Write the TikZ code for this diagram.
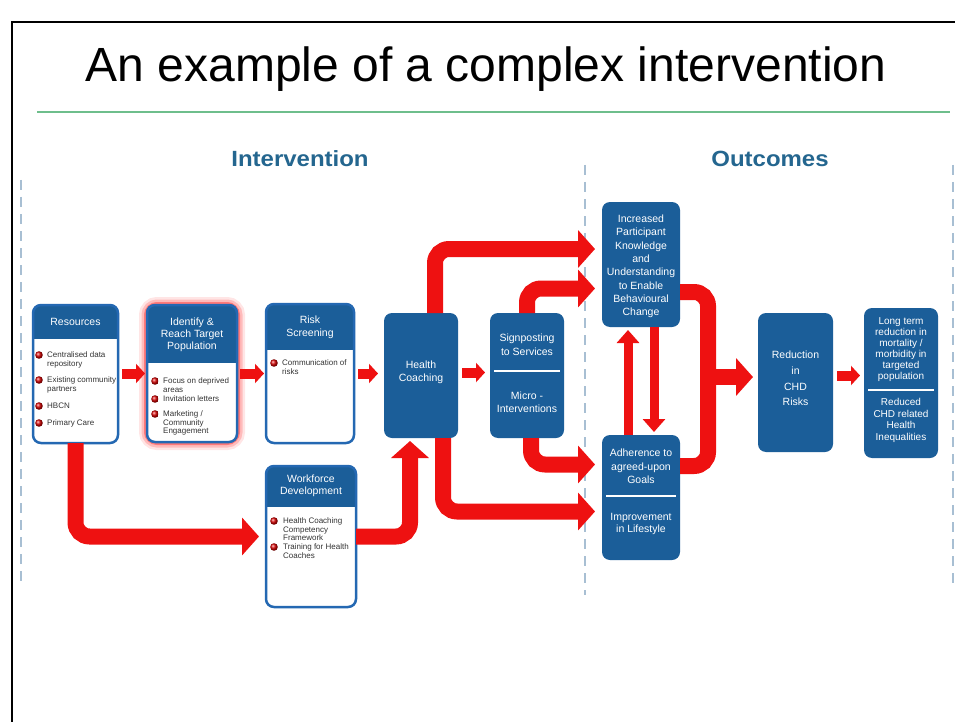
\documentclass[tikz,border=0pt]{standalone}
\usepackage{fontspec}
\usepackage{graphicx}
\setmainfont{Liberation Sans}
\usetikzlibrary{arrows.meta,fit}
\definecolor{boxblue}{HTML}{1B5E99}
\definecolor{bordblue}{HTML}{2468B2}
\definecolor{arrred}{HTML}{EE1111}
\definecolor{headcol}{HTML}{24668F}
\definecolor{dashcol}{HTML}{A8BFD3}
\definecolor{greenline}{HTML}{6EBE8C}

\newcommand\hdrbox[6]{%
  \node[fit={(#2,#3) (#4,#5)}, inner sep=0pt, outer sep=0pt] (#1) {};
  \fill[white, rounded corners=8pt] (#1.north west) rectangle (#1.south east);
  \begin{scope}
    \clip[rounded corners=8pt] (#1.north west) rectangle (#1.south east);
    \fill[boxblue] (#1.north west) rectangle (#4,#6);
  \end{scope}
  \draw[bordblue, line width=2.5pt, rounded corners=8pt] (#1.north west) rectangle (#1.south east);
}
\newcommand\bul[2]{\shade[ball color=red!85!black] (#1,#2) circle (3.8pt);}

\begin{document}
\begin{tikzpicture}[x=1pt,y=-1pt,
  solidbox/.style={fill=boxblue, rounded corners=8pt, inner sep=0pt, outer sep=0pt},
  wtext/.style={text=white, align=center, inner sep=0pt, font=\fontsize{10.5}{13}\selectfont},
  btxt/.style={anchor=north west, inner sep=0pt, align=left, font=\fontsize{8}{8.6}\selectfont, text=black!80},
  bigarr/.style={draw=arrred, line width=16pt, rounded corners=14pt, shorten >=7pt, -{Triangle[width=37pt,length=17pt]}},
  bigline/.style={draw=arrred, line width=16pt, rounded corners=14pt},
  smallarr/.style={draw=arrred, line width=10pt, -{Triangle[width=19pt,length=9pt]}},
  midarr/.style={draw=arrred, line width=9pt, shorten >=3pt, -{Triangle[width=22pt,length=13pt]}},
  dashline/.style={draw=dashcol, line width=2.5pt, dash pattern=on 10pt off 7pt},
  divline/.style={draw=white, line width=2.5pt}
]
\useasboundingbox (0,0) rectangle (955,722);
\fill[white] (0,0) rectangle (955,722);
\draw[line width=2pt] (12,722) -- (12,22) -- (955,22);

% title
\node[font=\fontsize{48}{52}\selectfont, anchor=base, inner sep=0pt] (title) at (486,82) {An example of a complex intervention};
\draw[greenline, line width=1.5pt] (37,112) -- (950,112);

% headings
\node[anchor=base, inner sep=0pt, text=headcol, font=\fontsize{22}{24}\selectfont\bfseries] (hint) at (300,167) {\scalebox{1.09}[1]{Intervention}};
\node[anchor=base, inner sep=0pt, text=headcol, font=\fontsize{22}{24}\selectfont\bfseries] (hout) at (770,167) {\scalebox{1.09}[1]{Outcomes}};

% dashed separators
\draw[dashline] (21,180) -- (21,582);
\draw[dashline] (585,165) -- (585,595);
\draw[dashline] (953,165) -- (953,585);

% glow of identify box
\foreach \w/\o in {16/0.10, 11/0.18, 6/0.35}
  \draw[red, opacity=\o, line width=\w pt, rounded corners=10pt] (147,305) rectangle (237,442);

% boxes with header
\hdrbox{res}{33}{305}{118}{443}{339}
\hdrbox{idf}{147}{305}{237}{442}{363}
\hdrbox{risk}{266}{304}{354}{443}{350}
\hdrbox{wf}{266}{466}{356}{607}{507}

% solid boxes
\node[solidbox, fit={(384,313) (458,438)}] (hc) {};
\node[solidbox, fit={(490,313) (564,438)}] (sign) {};
\node[solidbox, fit={(602,202) (680,327)}] (inc) {};
\node[solidbox, fit={(602,435) (680,560)}] (adh) {};
\node[solidbox, fit={(758,313) (833,452)}] (red) {};
\node[solidbox, fit={(864,308) (938,458)}] (long) {};

\draw[divline] (494,371) -- (560,371);
\draw[divline] (606,496) -- (676,496);
\draw[divline] (868,390) -- (934,390);

% header texts
\node[wtext] (tres) at (75.5,322) {Resources};
\node[wtext, font=\fontsize{10.5}{12}\selectfont] (tidf) at (192,335) {Identify \&\\Reach Target\\Population};
\node[wtext] (trisk) at (310,327.5) {Risk\\Screening};
\node[wtext, font=\fontsize{10.5}{12}\selectfont] (twf) at (311,486) {Workforce\\Development};

% solid box texts
\node[wtext] (thc) at (421,372) {Health\\Coaching};
\node[wtext, font=\fontsize{10.5}{14}\selectfont] (tsig1) at (527,345) {Signposting\\to Services};
\node[wtext] (tsig2) at (527,402.5) {Micro -\\Interventions};
\node[wtext, font=\fontsize{10.5}{13.3}\selectfont] (tinc) at (641,266.5) {Increased\\Participant\\Knowledge\\and\\Understanding\\to Enable\\Behavioural\\Change};
\node[wtext, font=\fontsize{10.5}{13.5}\selectfont] (tadh1) at (641,466.5) {Adherence to\\agreed-upon\\Goals};
\node[wtext, font=\fontsize{10.5}{12.5}\selectfont] (tadh2) at (641,524) {Improvement\\in Lifestyle};
\node[wtext, font=\fontsize{10.5}{15.7}\selectfont] (tred) at (795.5,378.5) {Reduction\\in\\CHD\\Risks};
\node[wtext, font=\fontsize{10}{11}\selectfont] (tlong1) at (901,349.5) {Long term\\reduction in\\mortality /\\morbidity in\\targeted\\population};
\node[wtext, font=\fontsize{10}{11.7}\selectfont] (tlong2) at (901,420.5) {Reduced\\CHD related\\Health\\Inequalities};

% bullets
\bul{39}{355} \node[btxt] (b1) at (47,351.5) {Centralised data\\repository};
\bul{39}{380} \node[btxt] (b2) at (47,376.5) {Existing community\\partners};
\bul{39}{406} \node[btxt] (b3) at (47,402.5) {HBCN};
\bul{39}{423} \node[btxt] (b4) at (47,419.5) {Primary Care};

\bul{155}{381} \node[btxt] (b5) at (163,377.5) {Focus on deprived\\areas};
\bul{155}{399} \node[btxt] (b6) at (163,395.5) {Invitation letters};
\bul{155}{414} \node[btxt] (b7) at (163,410.5) {Marketing /\\Community\\Engagement};

\bul{274}{363} \node[btxt] (b8) at (282,359.5) {Communication of\\risks};

\bul{274}{521} \node[btxt] (b9) at (283,517.5) {Health Coaching\\Competency\\Framework};
\bul{274}{547} \node[btxt] (b10) at (283,543.5) {Training for Health\\Coaches};

% small arrows
\draw[smallarr, shorten <=4pt, shorten >=2pt] (res.east |- idf.west) -- (idf.west);
\draw[smallarr, shorten <=3pt, shorten >=2pt] (idf.east) -- (idf.east -| risk.west);
\draw[smallarr, shorten <=4pt, shorten >=6pt] (risk.east) -- (risk.east -| hc.west);
\draw[smallarr, shorten <=4pt, shorten >=5pt] ([yshift=3pt]hc.east) -- ([yshift=3pt]hc.east -| sign.west);
\draw[smallarr, shorten <=4pt, shorten >=4pt] ([yshift=7pt]red.east) -- ([yshift=7pt]red.east -| long.west);

% big arrows
\draw[bigarr] (res.south) |- (wf.west);
\draw[bigarr, shorten >=3pt] (wf.east) -| ([xshift=-11pt]hc.south);
\draw[bigarr] ([xshift=22pt]hc.south) |- ([yshift=-14pt]adh.west);
\draw[bigarr] ([xshift=4pt]sign.south) |- ([yshift=33pt]adh.west);
\draw[bigarr] ([xshift=14pt]hc.north) |- ([yshift=15.5pt]inc.west);
\draw[bigarr] (sign.north) |- ([yshift=-24pt]inc.west);

% between outcome boxes
\draw[midarr] ([xshift=-13pt]adh.north) -- ([xshift=-13pt]inc.south);
\draw[midarr] ([xshift=13pt]inc.south) -- ([xshift=13pt]adh.north);

% bracket to reduction
\coordinate (brk) at (708,377);
\draw[bigline] ([yshift=-27.5pt]inc.east) -| (brk) |- ([yshift=31.5pt]adh.east);
\draw[bigarr, shorten >=5pt] (brk) -- (brk -| red.west);
\end{tikzpicture}
\end{document}
